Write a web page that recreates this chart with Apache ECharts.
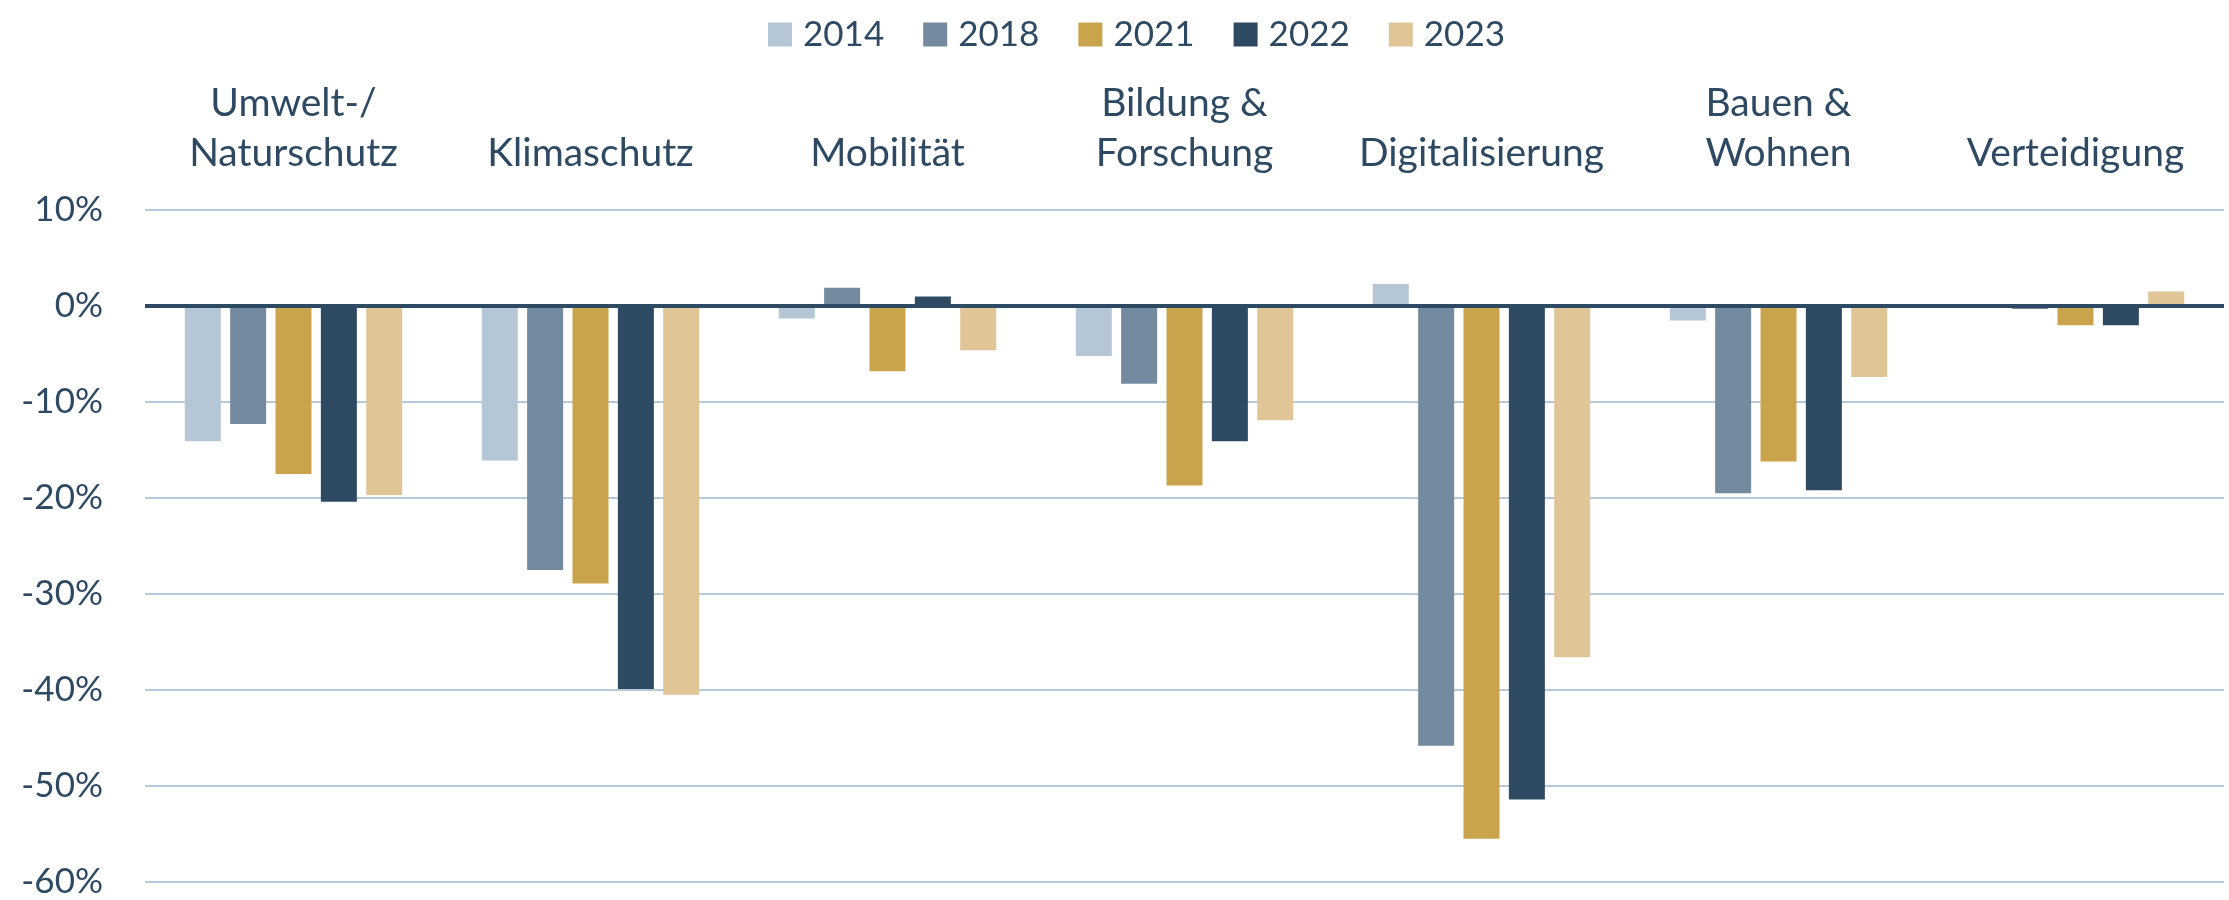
<!DOCTYPE html>
<html>
<head>
<meta charset="utf-8">
<script src="https://cdn.jsdelivr.net/npm/echarts@6/dist/echarts.min.js"></script>
<style>
html,body{margin:0;padding:0;background:#fff;}
#c{width:2229px;height:900px;}
</style>
</head>
<body>
<div id="c"></div>
<script>
const categories = ["Umwelt-/\nNaturschutz", "Klimaschutz", "Mobilität", "Bildung &\nForschung", "Digitalisierung", "Bauen &\nWohnen", "Verteidigung"];
const seriesNames = ["2014", "2018", "2021", "2022", "2023"];
const v2014 = [-14.1, -16.1, -1.3, -5.2, 2.3, -1.5, 0];
const v2018 = [-12.3, -27.5, 1.9, -8.1, -45.8, -19.5, -0.3];
const v2021 = [-17.5, -28.9, -6.8, -18.7, -55.5, -16.2, -2.0];
const v2022 = [-20.4, -39.9, 1.0, -14.1, -51.4, -19.2, -2.0];
const v2023 = [-19.7, -40.5, -4.6, -11.9, -36.6, -7.4, 1.5];
const yTicks = [10, 0, -10, -20, -30, -40, -50, -60];

const values = [v2014, v2018, v2021, v2022, v2023];
const colors = ["#B5C7D5", "#748B9F", "#C9A44D", "#2E4A63", "#E0C597"];
const textColor = "#2E4A63";
const font = "Lato";

const chart = echarts.init(document.getElementById('c'), null, {renderer: 'canvas'});
const series = seriesNames.map((n, i) => {
  const s = {
    name: n,
    type: 'bar',
    data: values[i],
    barWidth: 36,
    barGap: '26%',
    itemStyle: {color: colors[i]},
    emphasis: {disabled: true},
    animation: false
  };
  if (i === 0) {
    s.markLine = {
      silent: true,
      symbol: ['none', 'none'],
      label: {show: false},
      lineStyle: {color: textColor, width: 4, type: 'solid'},
      data: [{yAxis: 0}],
      animation: false,
      z: 10
    };
  }
  return s;
});

chart.setOption({
  animation: false,
  color: colors,
  legend: {
    data: seriesNames,
    left: 763,
    top: 12,
    icon: 'rect',
    itemWidth: 24,
    itemHeight: 24,
    itemGap: 39,
    textStyle: {fontFamily: font, fontSize: 35, color: textColor, lineHeight: 24, padding: [0, 0, 0, 6]}
  },
  grid: {left: 145, right: 5, top: 210, bottom: 18, containLabel: false},
  xAxis: {
    type: 'category',
    position: 'top',
    data: categories,
    axisLine: {show: false},
    axisTick: {show: false},
    splitLine: {show: false},
    axisLabel: {
      interval: 0,
      margin: 32,
      fontFamily: font,
      fontSize: 39,
      lineHeight: 50,
      color: textColor
    }
  },
  yAxis: {
    type: 'value',
    min: -60,
    max: 10,
    interval: 10,
    axisLine: {show: false},
    axisTick: {show: false},
    splitLine: {lineStyle: {color: '#B7C8D6', width: 2}},
    axisLabel: {
      margin: 42,
      fontFamily: font,
      fontSize: 35,
      color: textColor,
      formatter: v => yTicks.includes(v) ? v + '%' : ''
    }
  },
  series: series
});
</script>
</body>
</html>
